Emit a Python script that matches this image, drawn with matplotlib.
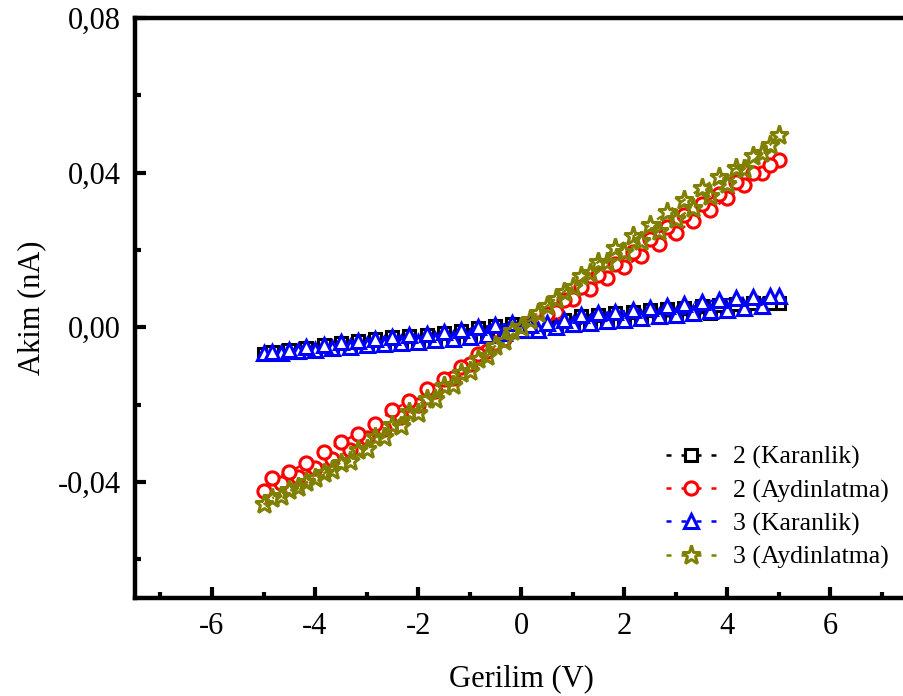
import matplotlib
matplotlib.use("Agg")
import matplotlib.pyplot as plt
from matplotlib.ticker import MultipleLocator

plt.rcParams['font.family'] = ['Liberation Serif', 'DejaVu Serif']
plt.rcParams['axes.unicode_minus'] = False

# voltage sweep: forward (-5 -> 5) then back (5 -> -5)
v_fwd = [-5.0, -4.67, -4.33, -4.0, -3.67, -3.33, -3.0, -2.67, -2.33, -2.0, -1.67,
         -1.33, -1.0, -0.67, -0.33, 0.0, 0.33, 0.67, 1.0, 1.33, 1.67, 2.0, 2.33,
         2.67, 3.0, 3.33, 3.67, 4.0, 4.33, 4.67, 5.0]
v_rev = [4.83, 4.5, 4.17, 3.83, 3.5, 3.17, 2.83, 2.5, 2.17, 1.83, 1.5, 1.17, 0.83,
         0.5, 0.17, -0.17, -0.5, -0.83, -1.17, -1.5, -1.83, -2.17, -2.5, -2.83,
         -3.17, -3.5, -3.83, -4.17, -4.5, -4.83]

# 2 (Karanlik)
i2_dark_fwd = [-0.0068, -0.0066, -0.0063, -0.0058, -0.0055, -0.0051, -0.0047, -0.0044,
               -0.0040, -0.0037, -0.0033, -0.0029, -0.0025, -0.0020, -0.0015, -0.0009,
               -0.0006, 0.0001, 0.0007, 0.0011, 0.0015, 0.0019, 0.0023, 0.0027, 0.0030,
               0.0034, 0.0038, 0.0042, 0.0047, 0.0052, 0.0062]
i2_dark_rev = [0.0063, 0.0062, 0.0060, 0.0057, 0.0054, 0.0051, 0.0047, 0.0044, 0.0040,
               0.0037, 0.0033, 0.0029, 0.0019, 0.0011, 0.0005, 0.0009, 0.0004, -0.0001,
               -0.0009, -0.0014, -0.0019, -0.0022, -0.0025, -0.0030, -0.0036, -0.0040,
               -0.0047, -0.0053, -0.0058, -0.0064]

# 2 (Aydinlatma)
i2_light_fwd = [-0.0424, -0.0404, -0.0388, -0.0365, -0.0340, -0.0318, -0.0287, -0.0262,
                -0.0232, -0.0200, -0.0165, -0.0130, -0.0095, -0.0062, -0.0030, -0.0005,
                0.0010, 0.0039, 0.0072, 0.0100, 0.0128, 0.0157, 0.0185, 0.0215, 0.0245,
                0.0275, 0.0303, 0.0335, 0.0368, 0.0399, 0.0432]
i2_light_rev = [0.0420, 0.0399, 0.0375, 0.0345, 0.0318, 0.0290, 0.0260, 0.0228, 0.0195,
                0.0165, 0.0135, 0.0105, 0.0070, 0.0035, 0.0005, -0.0010, -0.0040, -0.0070,
                -0.0102, -0.0135, -0.0160, -0.0190, -0.0215, -0.0250, -0.0275, -0.0298,
                -0.0322, -0.0350, -0.0375, -0.0391]

# 3 (Karanlik)
i3_dark_fwd = [-0.0067, -0.0066, -0.0062, -0.0058, -0.0054, -0.0050, -0.0047, -0.0043,
               -0.0040, -0.0037, -0.0033, -0.0029, -0.0024, -0.0020, -0.0014, -0.0008,
               -0.0006, 0.0002, 0.0008, 0.0012, 0.0016, 0.0020, 0.0025, 0.0029, 0.0033,
               0.0037, 0.0041, 0.0046, 0.0051, 0.0056, 0.0080]
i3_dark_rev = [0.0082, 0.0078, 0.0075, 0.0070, 0.0066, 0.0061, 0.0056, 0.0050, 0.0044,
               0.0040, 0.0036, 0.0031, 0.0020, 0.0012, 0.0006, 0.0010, 0.0005, 0.0000,
               -0.0008, -0.0013, -0.0018, -0.0021, -0.0024, -0.0029, -0.0035, -0.0039,
               -0.0046, -0.0052, -0.0058, -0.0063]

# 3 (Aydinlatma)
i3_light_fwd = [-0.0458, -0.0437, -0.0412, -0.0390, -0.0370, -0.0345, -0.0315, -0.0285,
                -0.0255, -0.0222, -0.0185, -0.0150, -0.0112, -0.0075, -0.0035, 0.0000,
                0.0038, 0.0072, 0.0105, 0.0140, 0.0168, 0.0195, 0.0222, 0.0250, 0.0280,
                0.0308, 0.0340, 0.0372, 0.0410, 0.0450, 0.0497]
i3_light_rev = [0.0472, 0.0442, 0.0412, 0.0388, 0.0360, 0.0330, 0.0298, 0.0265, 0.0235,
                0.0205, 0.0170, 0.0132, 0.0092, 0.0055, 0.0018, -0.0010, -0.0048, -0.0082,
                -0.0118, -0.0152, -0.0185, -0.0220, -0.0252, -0.0285, -0.0318, -0.0350,
                -0.0378, -0.0400, -0.0422, -0.0442]

y_ticks = [-0.04, 0.0, 0.04, 0.08]
y_tick_labels = ['-0,04', '0,00', '0,04', '0,08']
x_ticks = [-6, -4, -2, 0, 2, 4, 6]
x_tick_labels = ['-6', '-4', '-2', '0', '2', '4', '6']

fig = plt.figure(figsize=(9.04, 6.96), dpi=100)
ax = fig.add_axes([0.149, 0.141, 0.855, 0.833])

v_all = v_fwd + v_rev
dash = (0, (2.0, 4.0))
series = [
    (i2_dark_fwd + i2_dark_rev, 's', 'black', 'white', 8.5, '2 (Karanlik)'),
    (i2_light_fwd + i2_light_rev, 'o', 'red', 'white', 9.5, '2 (Aydinlatma)'),
    (i3_dark_fwd + i3_dark_rev, '^', 'blue', 'white', 9.5, '3 (Karanlik)'),
    (i3_light_fwd + i3_light_rev, '*', '#808000', 'none', 14, '3 (Aydinlatma)'),
]
for vals, mk, col, fc, ms, lab in series:
    ax.plot(v_all, vals, linestyle=dash, color=col, lw=1.8, marker=mk,
            markersize=ms, markerfacecolor=fc, markeredgecolor=col,
            markeredgewidth=2.2, label=lab)

ax.set_xlim(-7.5, 7.5)
ax.set_ylim(-0.07, 0.08)
ax.set_xticks(x_ticks)
ax.set_xticklabels(x_tick_labels)
ax.set_yticks(y_ticks)
ax.set_yticklabels(y_tick_labels)
ax.xaxis.set_minor_locator(MultipleLocator(1))
ax.yaxis.set_minor_locator(MultipleLocator(0.02))
ax.tick_params(which='both', direction='in', top=False, right=False, width=3,
               labelsize=22, pad=10)
ax.tick_params(which='major', length=8)
ax.tick_params(which='minor', length=4)
for sp in ax.spines.values():
    sp.set_linewidth(3.2)

ax.set_xlabel('Gerilim (V)', fontsize=22, labelpad=17)
ax.set_ylabel('Akim (nA)', fontsize=22, labelpad=8)

ax.legend(loc='lower right', bbox_to_anchor=(1.005, 0.01), frameon=False,
          fontsize=18.5, handlelength=2.0, handletextpad=0.6, labelspacing=0.38,
          numpoints=1)

fig.savefig('out.png', dpi=100)
